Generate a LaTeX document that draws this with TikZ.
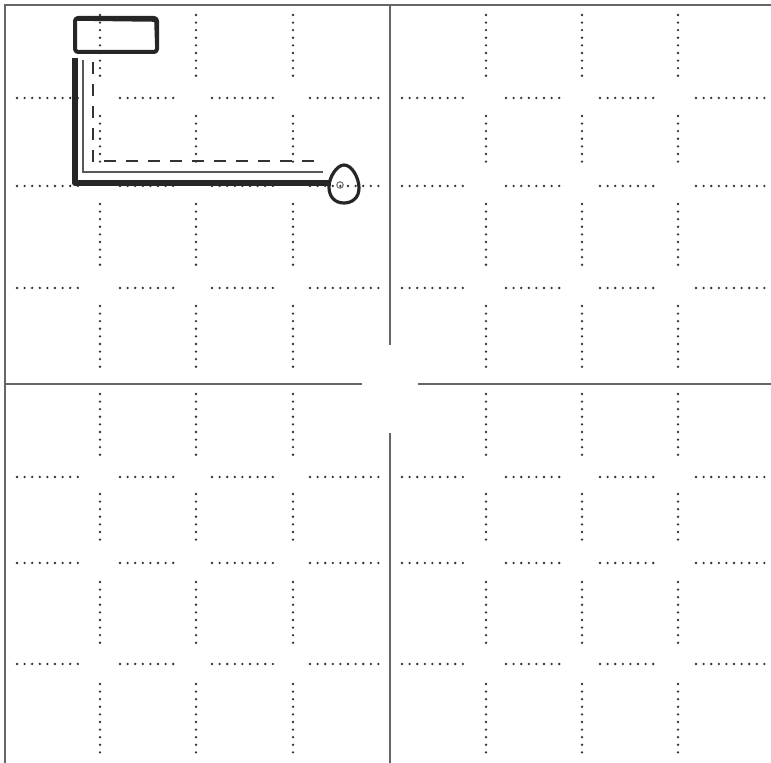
\documentclass[tikz,border=0pt]{standalone}
\usepackage{xcolor}
\usepackage{tikz}
\usetikzlibrary{calc}

\tikzset{
  divider/.style={draw=gray!80!black,line width=0.9pt},
  gridrule/.style={draw=black!80,line width=1.3pt,line cap=round,dash pattern=on 0pt off 3.8pt},
  sketch/.style={draw=black!85,line width=2pt,line join=round,line cap=round},
  trace/.style={draw=gray!70!black,line width=1.2pt},
  dashtrace/.style={draw=black!80,line width=1.4pt,dash pattern=on 6pt off 5pt},
}

\begin{document}
\begin{tikzpicture}[x=0.5pt,y=-0.5pt]
\useasboundingbox (0,0) rectangle (771,763);
% frame and quadrant dividers
\draw[divider] (5,763) -- (5,5) -- (771,5);
\draw[divider] (390,5) -- (390,345);
\draw[divider] (390,433) -- (390,763);
\draw[divider] (5,384) -- (362,384);
\draw[divider] (418,384) -- (771,384);
% dotted grid
\foreach \x in {100,196,293,486,582,678}
  \foreach \ya/\yb in {15/79,116/168,204/271,306/374,394/456,494/546,582/646,684/756}
    \draw[gridrule] (\x,\ya) -- (\x,\yb);
\foreach \y in {98,186,288,477,563,664}
  \foreach \xa/\xb in {17/78,120/176,212/276,310/382,402/468,506/564,600/660,696/770}
    \draw[gridrule] (\xa,\y) -- (\xb,\y);
% stand
\draw[sketch,rounded corners=1.5pt] (75,18) rectangle (157,52);
\draw[sketch,line width=0.8pt] (77,20) -- (155,21) -- (156,51);
% arm
\coordinate (top) at (75,58);
\coordinate (corner) at (75,183);
\coordinate (tip) at (330,183);
\draw[sketch,line width=3pt,line cap=butt] (top) -- (corner) -- (tip);
\draw[trace] (83,60) -- (83,172) -- (323,172);
\draw[dashtrace] (93,62) -- (93,161) -- (320,161);
% knob
\draw[sketch,line width=1.6pt] (344,165) .. controls (352,165) and (359,178) .. (359,188)
  .. controls (359,198) and (352,203) .. (344,203)
  .. controls (335,203) and (329,197) .. (329,187)
  .. controls (329,177) and (337,165) .. (344,165);
\draw[gray,line width=0.6pt] (340,185) circle (1.6pt);
\end{tikzpicture}
\end{document}
